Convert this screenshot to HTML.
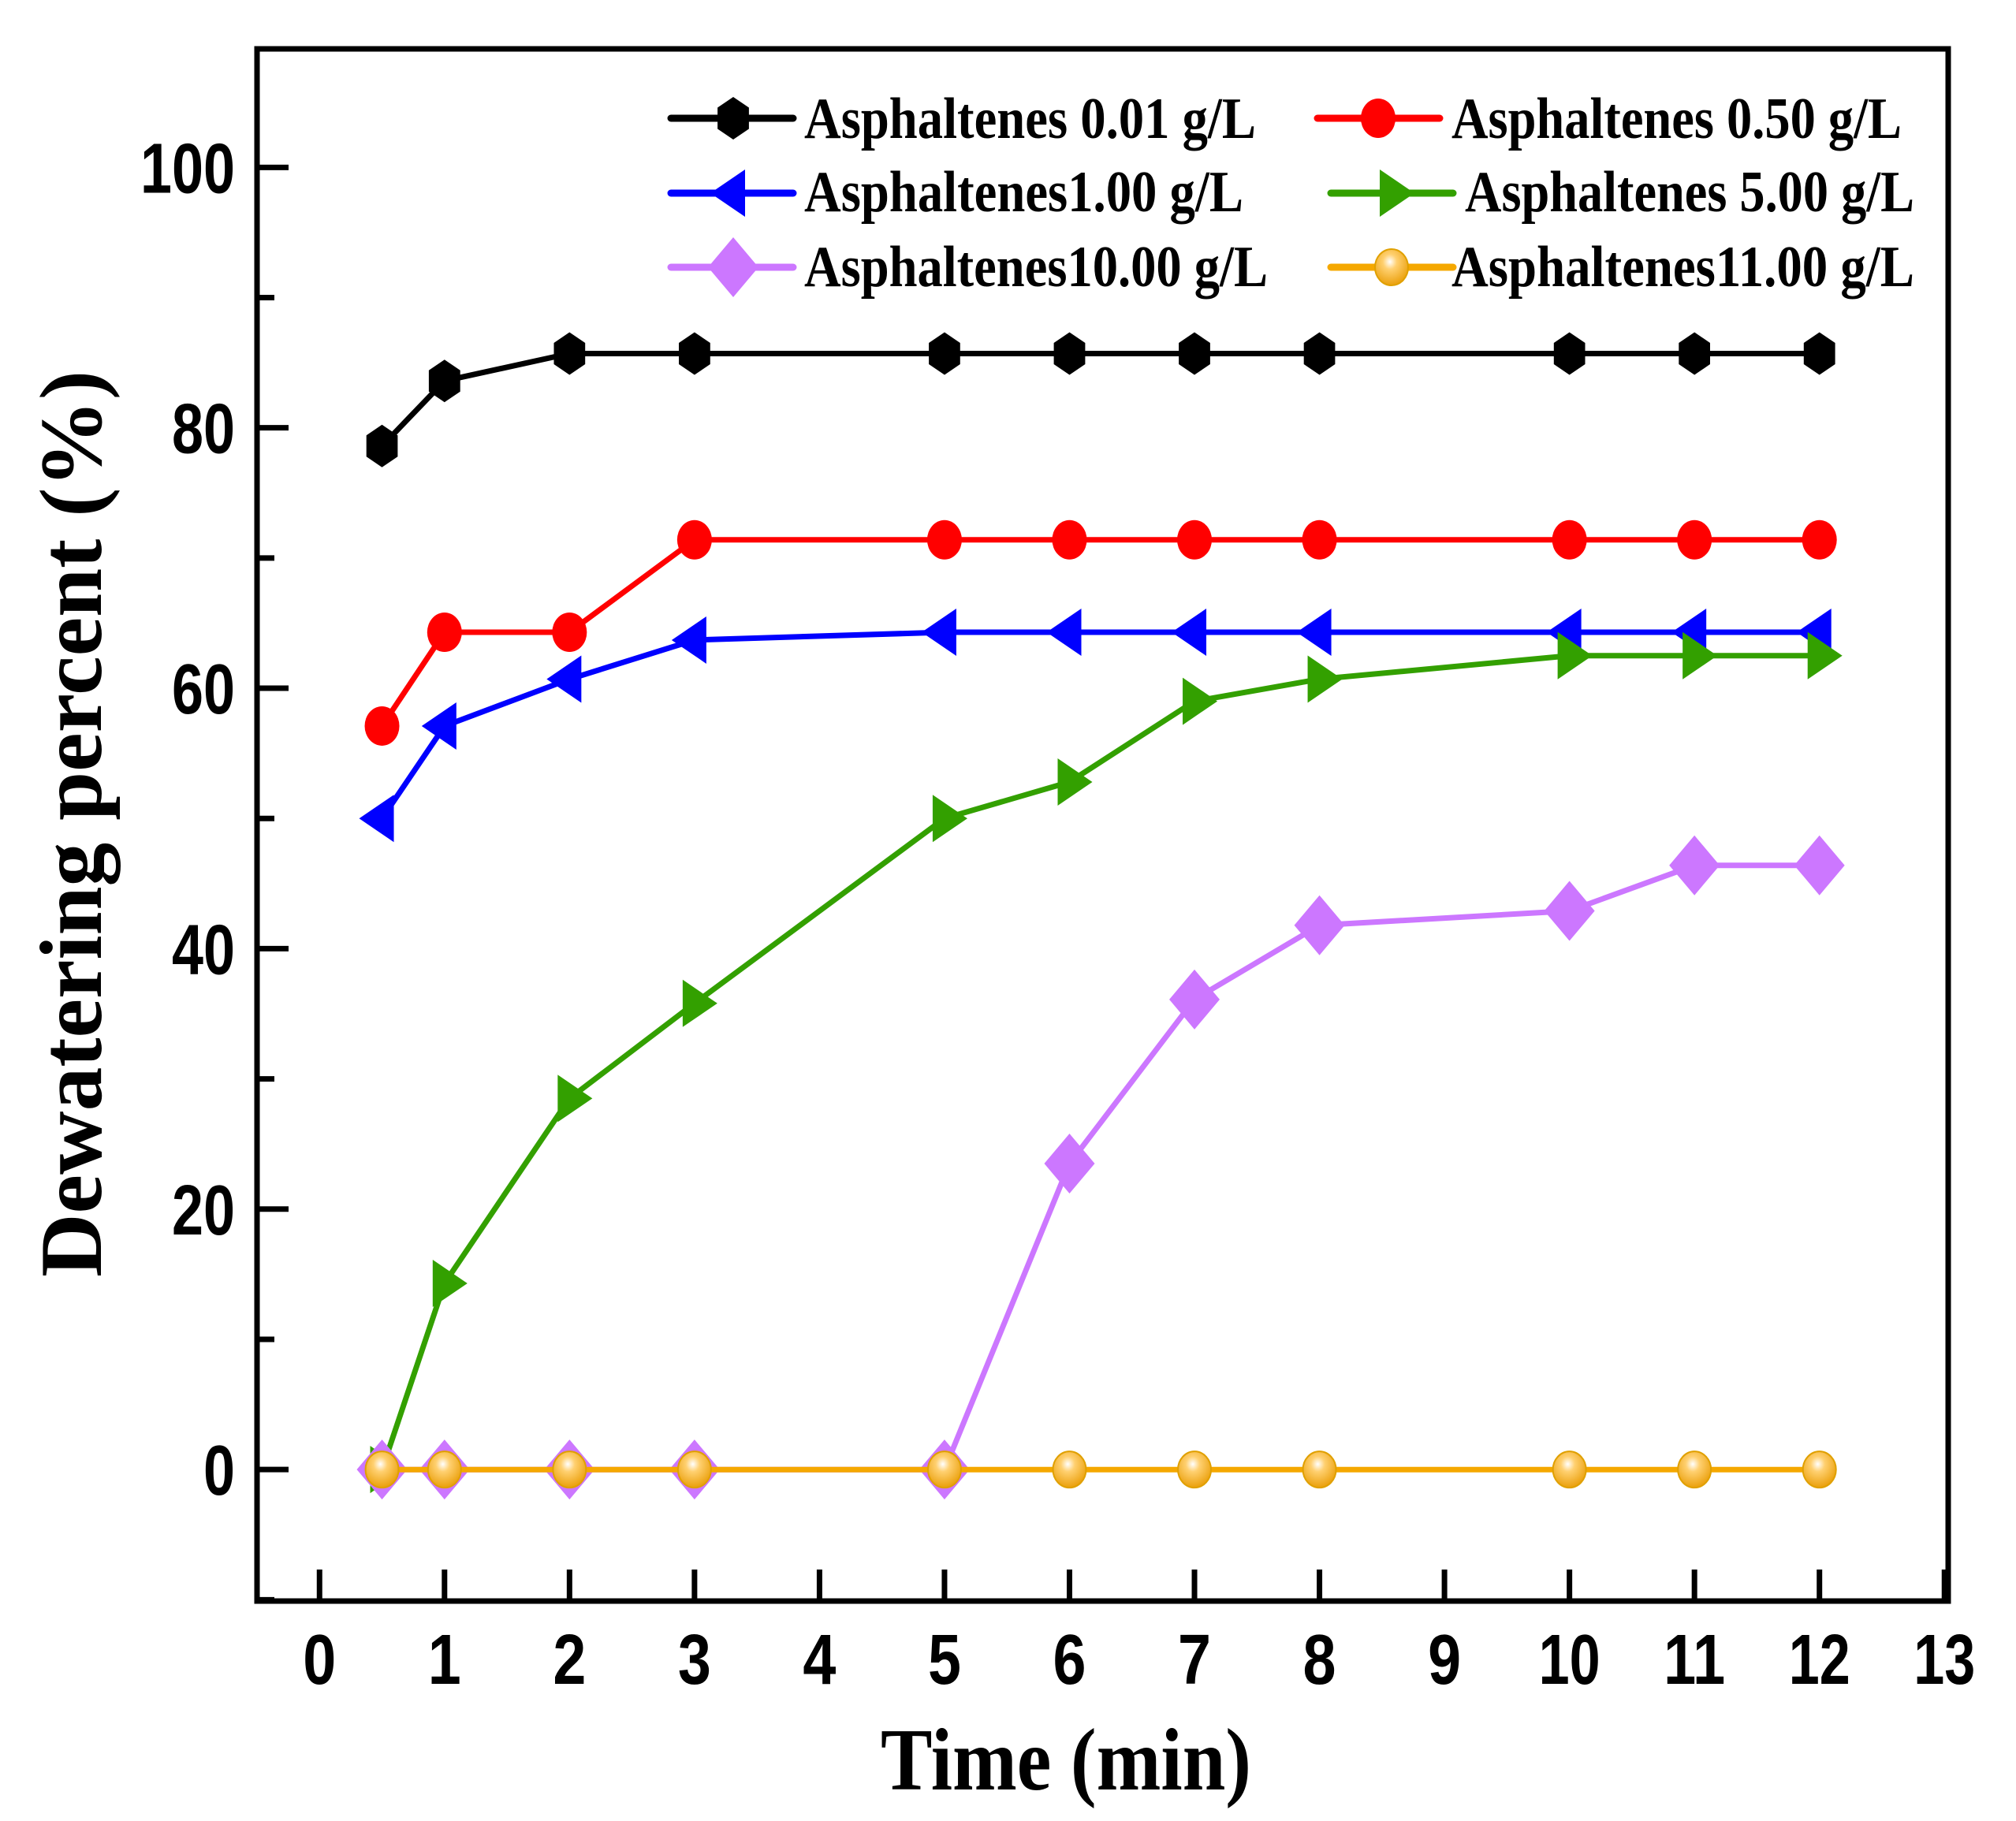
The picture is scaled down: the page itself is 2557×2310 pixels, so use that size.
<!DOCTYPE html>
<html><head><meta charset="utf-8"><style>
html,body{margin:0;padding:0;background:#fff;}
svg{display:block;}
.tk{font-family:"Liberation Sans Narrow","Liberation Sans",sans-serif;font-weight:bold;font-size:90px;}
.lg{font-family:"Liberation Serif",serif;font-weight:bold;font-size:74px;}
.ttl{font-family:"Liberation Serif",serif;font-weight:bold;}
</style></head><body>
<svg id="chart" width="2557" height="2310" viewBox="0 0 2557 2310" xmlns="http://www.w3.org/2000/svg">
<defs>
<radialGradient id="ball" cx="0.45" cy="0.35" r="0.7">
<stop offset="0" stop-color="#fff"/><stop offset="0.3" stop-color="#ffd070"/><stop offset="1" stop-color="#e89a00"/>
</radialGradient>
</defs>
<g id="axes"></g>
<g id="series"></g>
<g id="legend"></g>
<rect x="326" y="62" width="2145" height="1969" fill="none" stroke="#000" stroke-width="7"/>
<text class="ttl" x="1352" y="2270" font-size="112" text-anchor="middle" textLength="470" lengthAdjust="spacingAndGlyphs">Time (min)</text>
<text class="ttl" transform="translate(128,1045) rotate(-90)" font-size="112" text-anchor="middle" textLength="1150" lengthAdjust="spacingAndGlyphs">Dewatering percent (%)</text>
</svg>
<script>
const times = [0.5,1,2,3,5,6,7,8,10,11,12];
const s001 = [78.6,83.6,85.7,85.7,85.7,85.7,85.7,85.7,85.7,85.7,85.7];
const s050 = [57.1,64.3,64.3,71.4,71.4,71.4,71.4,71.4,71.4,71.4,71.4];
const s100 = [50,57.1,60.7,63.7,64.3,64.3,64.3,64.3,64.3,64.3,64.3];
const s500 = [0,14.3,28.5,35.8,50,52.8,59,60.7,62.5,62.5,62.5];
const s1000 = [0,0,0,0,0,23.5,36.1,41.8,42.9,46.4,46.4];
const s1100 = [0,0,0,0,0,0,0,0,0,0,0];
const xTicks = [0,1,2,3,4,5,6,7,8,9,10,11,12,13];
const yTicks = [0,20,40,60,80,100];
const yMinor = [-10,10,30,50,70,90];
const seriesNames = ["Asphaltenes 0.01 g/L","Asphaltenes 0.50 g/L","Asphaltenes1.00 g/L","Asphaltenes 5.00 g/L","Asphaltenes10.00 g/L","Asphaltenes11.00 g/L"];

const NS="http://www.w3.org/2000/svg";
const L=326,R=2471,T=62,B=2031;
const xMin=-0.5,xMax=13.03,yMin=-10.1,yMax=109.1;
const X=v=>L+(v-xMin)/(xMax-xMin)*(R-L);
const Y=v=>B-(v-yMin)/(yMax-yMin)*(B-T);
function mk(tag,attrs,parent){const e=document.createElementNS(NS,tag);for(const k in attrs)e.setAttribute(k,attrs[k]);parent.appendChild(e);return e;}
const axes=document.getElementById('axes');
xTicks.forEach(t=>{
  const l=mk('line',{x1:X(t),x2:X(t),y1:B,y2:B-40,stroke:'#000','stroke-width':7},axes);
  
  
  const tx=mk('text',{x:X(t),y:2136,'text-anchor':'middle',class:'tk',textLength:(t>=10?78:42),lengthAdjust:'spacingAndGlyphs'},axes);
  tx.textContent=t;
  
  
});
yTicks.forEach(t=>{
  const l=mk('line',{x1:L,x2:L+40,y1:Y(t),y2:Y(t),stroke:'#000','stroke-width':7},axes);
  
  
  const w=String(t).length*40;
  const tx=mk('text',{x:298,y:Y(t)+32,'text-anchor':'end',class:'tk',textLength:w,lengthAdjust:'spacingAndGlyphs'},axes);
  tx.textContent=t;
  
  
});
yMinor.forEach(t=>{
  const l=mk('line',{x1:L,x2:L+22,y1:Y(t),y2:Y(t),stroke:'#000','stroke-width':7},axes);
  
  
});

function marker(type,color,cx,cy,g){
  let e;
  if(type==='hex'){const r=27;const p=[];for(let i=0;i<6;i++){const a=Math.PI/6+i*Math.PI/3;p.push((cx+r*0.85*Math.cos(a)).toFixed(1)+','+(cy+r*Math.sin(a)).toFixed(1));}
    e=mk('polygon',{points:p.join(' '),fill:color},g);}
  else if(type==='circle'){e=mk('ellipse',{cx:cx,cy:cy,rx:22,ry:25,fill:color},g);}
  else if(type==='left'){e=mk('polygon',{points:`${cx-29},${cy} ${cx+15},${cy-30} ${cx+15},${cy+30}`,fill:color},g);}
  else if(type==='right'){e=mk('polygon',{points:`${cx+29},${cy} ${cx-15},${cy-30} ${cx-15},${cy+30}`,fill:color},g);}
  else if(type==='diamond'){e=mk('polygon',{points:`${cx},${cy-38} ${cx+32},${cy} ${cx},${cy+38} ${cx-32},${cy}`,fill:color},g);}
  else {e=mk('ellipse',{cx:cx,cy:cy,rx:21,ry:23,fill:'url(#ball)',stroke:'#e0a000','stroke-width':2},g);}
  return e;
}
const defs=[
  {d:s001,c:'#000000',m:'hex',name:'series-0-01'},
  {d:s050,c:'#ff0000',m:'circle',name:'series-0-50'},
  {d:s100,c:'#0000ff',m:'left',name:'series-1-00'},
  {d:s500,c:'#33a000',m:'right',name:'series-5-00'},
  {d:s1000,c:'#cc77ff',m:'diamond',name:'series-10-00'},
  {d:s1100,c:'#f5a800',m:'ball',name:'series-11-00'}
];
const sg=document.getElementById('series');
defs.forEach(s=>{
  const g=mk('g',{},sg);
  
  
  const pts=times.map((t,i)=>X(t).toFixed(1)+','+Y(s.d[i]).toFixed(1)).join(' ');
  const pl=mk('polyline',{points:pts,fill:'none',stroke:s.c,'stroke-width':7},g);
  
  
  times.forEach((t,i)=>{
    const e=marker(s.m,s.c,X(t),Y(s.d[i]),g);
    
    
  });
});
const lg=document.getElementById('legend');
const legPos=[
  {lx1:851,lx2:1006,mx:930,ty:175,tx:1020,tw:573,cy:150},
  {lx1:1671,lx2:1826,mx:1748,ty:175,tx:1841,tw:571,cy:150},
  {lx1:851,lx2:1006,mx:930,ty:268,tx:1020,tw:557,cy:245},
  {lx1:1688,lx2:1843,mx:1765,ty:268,tx:1858,tw:570,cy:245},
  {lx1:851,lx2:1006,mx:930,ty:363,tx:1020,tw:588,cy:339},
  {lx1:1688,lx2:1843,mx:1765,ty:363,tx:1841,tw:587,cy:339}
];
defs.forEach((s,i)=>{
  const p=legPos[i];
  const g=mk('g',{},lg);
  
  
  mk('line',{x1:p.lx1,x2:p.lx2,y1:p.cy,y2:p.cy,stroke:s.c,'stroke-width':9,'stroke-linecap':'round'},g);
  marker(s.m,s.c,p.mx,p.cy,g);
  const t=mk('text',{x:p.tx,y:p.ty,class:'lg',textLength:p.tw,lengthAdjust:'spacingAndGlyphs'},g);
  t.textContent=seriesNames[i];
});
</script>
</body></html>
